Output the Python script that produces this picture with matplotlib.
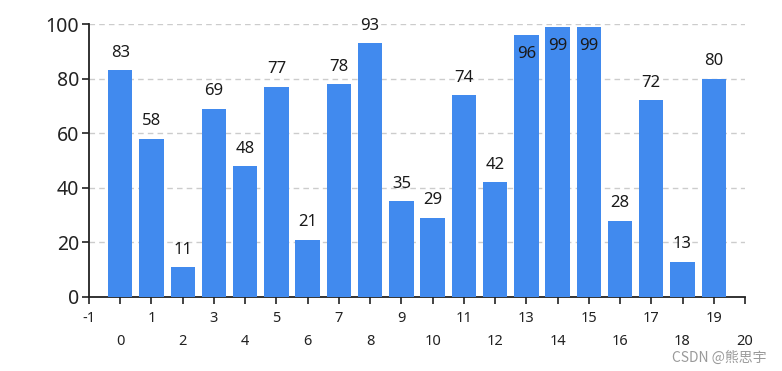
import matplotlib
matplotlib.use("Agg")
import matplotlib.pyplot as plt
import numpy as np

categories = list(range(20))
values = [83, 58, 11, 69, 48, 77, 21, 78, 93, 35, 29, 74, 42, 96, 99, 99, 28, 72, 13, 80]
x_ticks = list(range(-1, 21))
y_ticks = [0, 20, 40, 60, 80, 100]

plt.rcParams['font.family'] = ['Noto Sans', 'DejaVu Sans']

fig = plt.figure(figsize=(7.82, 3.71), dpi=100)
ax = fig.add_axes([89/782, 1-297/371, (745-89)/782, (297-24)/371])

bar_color = '#418AEE'
bars = ax.bar(categories, values, width=0.78, color=bar_color, zorder=3)

ax.set_xlim(-1, 20)
ax.set_ylim(0, 100)
ax.set_yticks(y_ticks)
ax.set_xticks(x_ticks)
ax.set_xticklabels([str(t) if t % 2 != 0 else '\n' + str(t) for t in x_ticks], fontsize=10.5, linespacing=1.75)
ax.tick_params(axis='y', labelsize=14, length=5, width=1.2, colors='#222222', pad=2)
ax.tick_params(axis='x', length=5, width=1.2, colors='#222222', pad=5)

for s in ['top', 'right']:
    ax.spines[s].set_visible(False)
for s in ['left', 'bottom']:
    ax.spines[s].set_linewidth(1.3)
    ax.spines[s].set_color('#222222')

ax.yaxis.grid(True, linestyle=(0, (4, 3)), color='#cccccc', linewidth=1, zorder=0)
for line in ax.get_ygridlines()[:1]:
    line.set_visible(False)

for xi, v in zip(categories, values):
    if v > 95:
        ax.annotate(str(v), (xi, v), xytext=(0, -14), textcoords='offset points',
                    ha='center', va='center', fontsize=12, color='#1a1a1a', zorder=4)
    else:
        ax.annotate(str(v), (xi, v), xytext=(0, 12.5), textcoords='offset points',
                    ha='center', va='center', fontsize=12, color='#1a1a1a', zorder=4)

fig.text(0.98, 0.035, 'CSDN @熊思宇', ha='right', va='center', fontsize=10, color='#9a9a9a',
         family=['Noto Sans CJK SC', 'DejaVu Sans'])

fig.savefig('out.png', dpi=100)
